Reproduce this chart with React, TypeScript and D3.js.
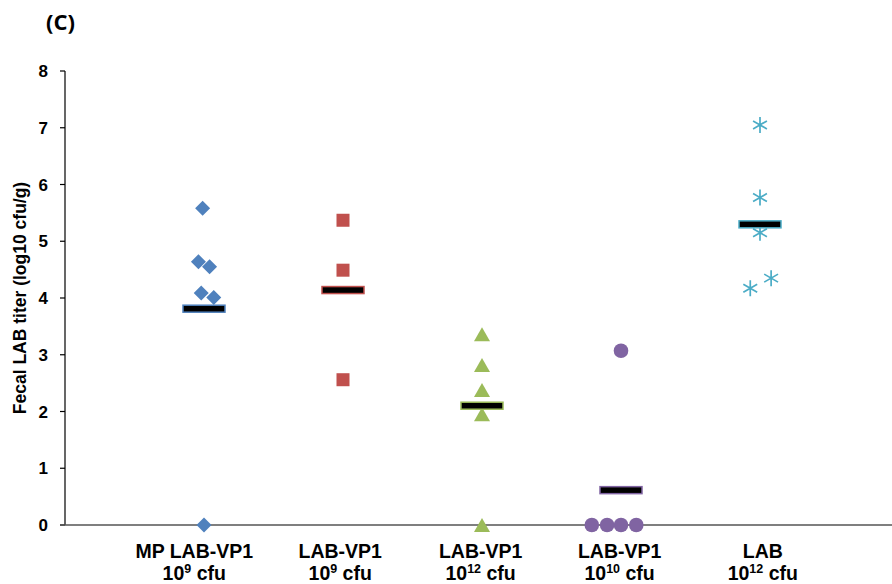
import React from "react";
import * as d3 from "d3";

// Group labels (two lines: name, dose exponent)
const groupNames = ["MP LAB-VP1", "LAB-VP1", "LAB-VP1", "LAB-VP1", "LAB"];
const groupExponents = ["9", "9", "12", "10", "12"];
const groupLabelX = [0.93, 1.98, 2.99, 3.99, 5.02];
const groupColors = ["#4F81BD", "#C0504D", "#9BBB59", "#8064A2", "#4BACC6"];
const groupShapes = ["diamond", "square", "triangle", "circle", "asterisk"];

// Individual titers (log10 cfu/g) with their horizontal positions on the category axis
const titers1 = [5.58, 4.64, 4.55, 4.09, 4.01, 0];
const xpos1 = [0.99, 0.96, 1.04, 0.98, 1.07, 1.0];
const titers2 = [5.37, 4.49, 2.56];
const xpos2 = [2.0, 2.0, 2.0];
const titers3 = [3.36, 2.82, 2.38, 1.95, 0];
const xpos3 = [3.0, 3.0, 3.0, 3.0, 3.0];
const titers4 = [3.07, 0, 0, 0, 0];
const xpos4 = [4.0, 3.79, 3.9, 4.0, 4.11];
const titers5 = [7.05, 5.77, 5.15, 4.35, 4.17];
const xpos5 = [5.0, 5.0, 5.0, 5.08, 4.93];

const yTicks = [0, 1, 2, 3, 4, 5, 6, 7, 8];

const groups = [
  { values: titers1, xs: xpos1 },
  { values: titers2, xs: xpos2 },
  { values: titers3, xs: xpos3 },
  { values: titers4, xs: xpos4 },
  { values: titers5, xs: xpos5 },
];

const W = 892;
const H = 584;

const x = d3.scaleLinear().domain([0, 6]).range([65, 899]);
const y = d3.scaleLinear().domain([0, 8]).range([525, 71]);

const axisFont = "'Liberation Sans', Arial, sans-serif";

function Marker({ shape, cx, cy, color }: { shape: string; cx: number; cy: number; color: string }) {
  if (shape === "diamond") {
    const r = 7.5;
    return <path d={`M${cx},${cy - r}L${cx + r},${cy}L${cx},${cy + r}L${cx - r},${cy}Z`} fill={color} />;
  }
  if (shape === "square") {
    const s = 13;
    return <rect x={cx - s / 2} y={cy - s / 2} width={s} height={s} fill={color} />;
  }
  if (shape === "triangle") {
    const w = 16, h = 14;
    return <path d={`M${cx},${cy - h / 2}L${cx + w / 2},${cy + h / 2}L${cx - w / 2},${cy + h / 2}Z`} fill={color} />;
  }
  if (shape === "circle") {
    return <circle cx={cx} cy={cy} r={7.3} fill={color} />;
  }
  // asterisk: three crossing strokes
  const r = 8;
  const lines = [0, 60, 120].map((a) => {
    const rad = (a * Math.PI) / 180;
    const dx = r * Math.sin(rad);
    const dy = r * Math.cos(rad);
    return `M${cx - dx},${cy - dy}L${cx + dx},${cy + dy}`;
  });
  return <path d={lines.join("")} stroke={color} strokeWidth={1.7} fill="none" />;
}

export default function App() {
  return (
    <svg
      width={W}
      height={H}
      style={{ position: "absolute", left: 0, top: 0, background: "#fff" }}
      fontFamily={axisFont}
    >
      {/* panel tag */}
      <text x={46} y={30} fontFamily="'Open Sans', sans-serif" fontWeight={700} fontSize={22} fill="#000">
        (C)
      </text>

      {/* y axis */}
      <line x1={x(0)} x2={x(0)} y1={y(8)} y2={y(0)} stroke="#000" strokeWidth={1.2} />
      {yTicks.map((t) => (
        <g key={t}>
          <line x1={x(0) - 5} x2={x(0)} y1={y(t)} y2={y(t)} stroke="#000" strokeWidth={1.2} />
          <text x={48} y={y(t)} dy="0.36em" textAnchor="end" fontWeight={700} fontSize={17} fill="#000">
            {t}
          </text>
        </g>
      ))}
      <text
        transform={`translate(26,${(y(0) + y(8)) / 2}) rotate(-90)`}
        textAnchor="middle"
        fontWeight={700}
        fontSize={17.5}
        fill="#000"
      >
        Fecal LAB titer (log10 cfu/g)
      </text>

      {/* x axis */}
      <line x1={x(0) - 5} x2={W} y1={y(0)} y2={y(0)} stroke="#555" strokeWidth={1.6} />

      {/* individual points */}
      {groups.map((g, gi) =>
        g.values.map((v, i) => (
          <Marker key={`${gi}-${i}`} shape={groupShapes[gi]} cx={x(g.xs[i])} cy={y(v)} color={groupColors[gi]} />
        ))
      )}

      {/* group mean bars */}
      {groups.map((g, gi) => {
        const m = d3.mean(g.values) as number;
        const cx = x(gi + 1);
        return (
          <rect
            key={`m-${gi}`}
            x={cx - 21}
            y={y(m) - 3.5}
            width={42}
            height={7}
            fill="#000"
            stroke={groupColors[gi]}
            strokeWidth={1.5}
          />
        );
      })}

      {/* category labels */}
      {groupNames.map((name, gi) => {
        const cx = x(groupLabelX[gi]);
        return (
          <g key={`l-${gi}`} fontWeight={700} fill="#000" textAnchor="middle">
            <text x={cx} y={558} fontSize={19.5}>
              {name}
            </text>
            <text x={cx} y={580} fontSize={19.5}>
              10
              <tspan fontSize={12.5} dy={-7}>
                {groupExponents[gi]}
              </tspan>
              <tspan dy={7}> cfu</tspan>
            </text>
          </g>
        );
      })}
    </svg>
  );
}
